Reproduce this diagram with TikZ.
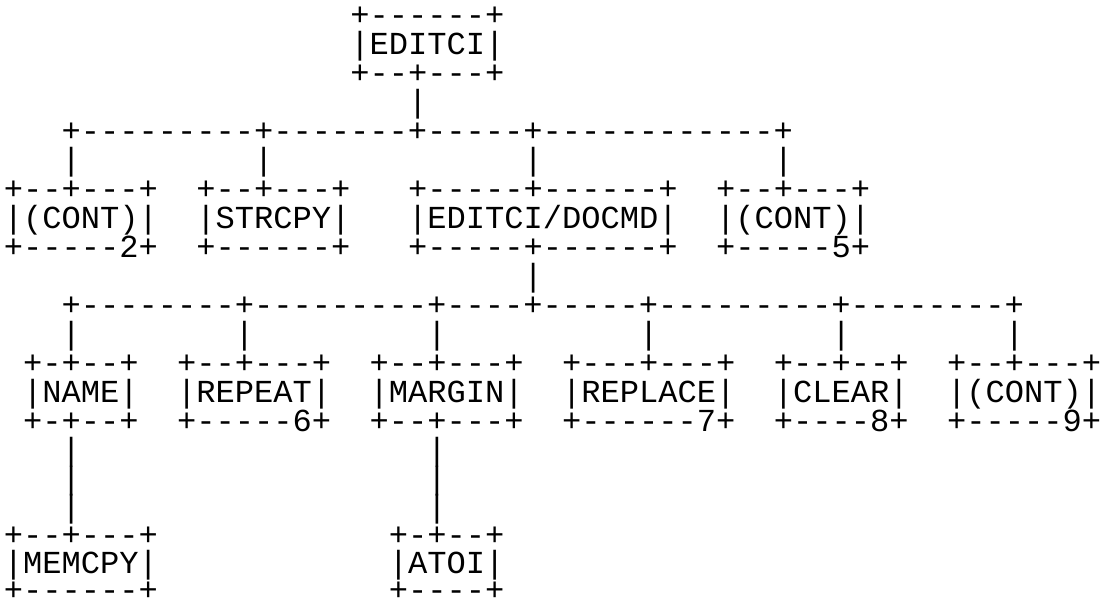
\documentclass[tikz,border=0pt]{standalone}
\usepackage{fontspec}
\setmonofont{Liberation Mono}
\usepackage{tikz}

\begin{document}
\begin{tikzpicture}[x=0.5pt,y=0.5pt,yscale=-1,xscale=1,
  asc/.style={anchor=base west,inner sep=0pt,text height=9pt,text depth=0pt,
    font=\ttfamily\fontsize{16.04}{14.5}\selectfont}]
\useasboundingbox (0,0) rectangle (1102,600);

% Text Node: top box
\node[asc] (editci-t) at (349.875,25) {+------+};
\node[asc] (editci)   at (349.875,54) {|EDITCI|};
\node[asc] (editci-b) at (349.875,83) {+--+---+};
\node[asc] (bar0)     at (407.625,112) {|};

% Text Node: first bus
\node[asc] (bus1) at (61.125,141) {+---------+-------+-----+------------+};
\node[asc] (bar1a) at (61.125,170) {|};
\node[asc] (bar1b) at (253.625,170) {|};
\node[asc] (bar1c) at (523.125,170) {|};
\node[asc] (bar1d) at (773.375,170) {|};

% Text Node: first row of boxes
\node[asc] (cont2-t) at (3.375,199) {+--+---+};
\node[asc] (cont2)   at (3.375,228) {|(CONT)|};
\node[asc] (cont2-b) at (3.375,257) {+-----2+};

\node[asc] (strcpy-t) at (195.875,199) {+--+---+};
\node[asc] (strcpy)   at (195.875,228) {|STRCPY|};
\node[asc] (strcpy-b) at (195.875,257) {+------+};

\node[asc] (docmd-t) at (407.625,199) {+-----+------+};
\node[asc] (docmd)   at (407.625,228) {|EDITCI/DOCMD|};
\node[asc] (docmd-b) at (407.625,257) {+-----+------+};

\node[asc] (cont5-t) at (715.625,199) {+--+---+};
\node[asc] (cont5)   at (715.625,228) {|(CONT)|};
\node[asc] (cont5-b) at (715.625,257) {+-----5+};

\node[asc] (bar2) at (523.125,286) {|};

% Text Node: second bus
\node[asc] (bus2) at (61.125,315) {+--------+---------+----+-----+---------+--------+};
\node[asc] (bar3a) at (61.125,344) {|};
\node[asc] (bar3b) at (234.375,344) {|};
\node[asc] (bar3c) at (426.875,344) {|};
\node[asc] (bar3d) at (638.625,344) {|};
\node[asc] (bar3e) at (831.125,344) {|};
\node[asc] (bar3f) at (1004.375,344) {|};

% Text Node: second row of boxes
\node[asc] (name-t) at (22.625,373) {+-+--+};
\node[asc] (name)   at (22.625,402) {|NAME|};
\node[asc] (name-b) at (22.625,431) {+-+--+};

\node[asc] (repeat-t) at (176.625,373) {+--+---+};
\node[asc] (repeat)   at (176.625,402) {|REPEAT|};
\node[asc] (repeat-b) at (176.625,431) {+-----6+};

\node[asc] (margin-t) at (369.125,373) {+--+---+};
\node[asc] (margin)   at (369.125,402) {|MARGIN|};
\node[asc] (margin-b) at (369.125,431) {+--+---+};

\node[asc] (replace-t) at (561.625,373) {+---+---+};
\node[asc] (replace)   at (561.625,402) {|REPLACE|};
\node[asc] (replace-b) at (561.625,431) {+------7+};

\node[asc] (clear-t) at (773.375,373) {+--+--+};
\node[asc] (clear)   at (773.375,402) {|CLEAR|};
\node[asc] (clear-b) at (773.375,431) {+----8+};

\node[asc] (cont9-t) at (946.625,373) {+--+---+};
\node[asc] (cont9)   at (946.625,402) {|(CONT)|};
\node[asc] (cont9-b) at (946.625,431) {+-----9+};

% Text Node: long drops
\node[asc] (bar4a) at (61.125,460) {|};
\node[asc] (bar4b) at (61.125,489) {|};
\node[asc] (bar4c) at (61.125,517) {|};
\node[asc] (bar5a) at (426.875,460) {|};
\node[asc] (bar5b) at (426.875,489) {|};
\node[asc] (bar5c) at (426.875,517) {|};

% Text Node: third row of boxes
\node[asc] (memcpy-t) at (3.375,545) {+--+---+};
\node[asc] (memcpy)   at (3.375,573) {|MEMCPY|};
\node[asc] (memcpy-b) at (3.375,600) {+------+};

\node[asc] (atoi-t) at (388.375,545) {+-+--+};
\node[asc] (atoi)   at (388.375,573) {|ATOI|};
\node[asc] (atoi-b) at (388.375,600) {+----+};

\end{tikzpicture}
\end{document}
